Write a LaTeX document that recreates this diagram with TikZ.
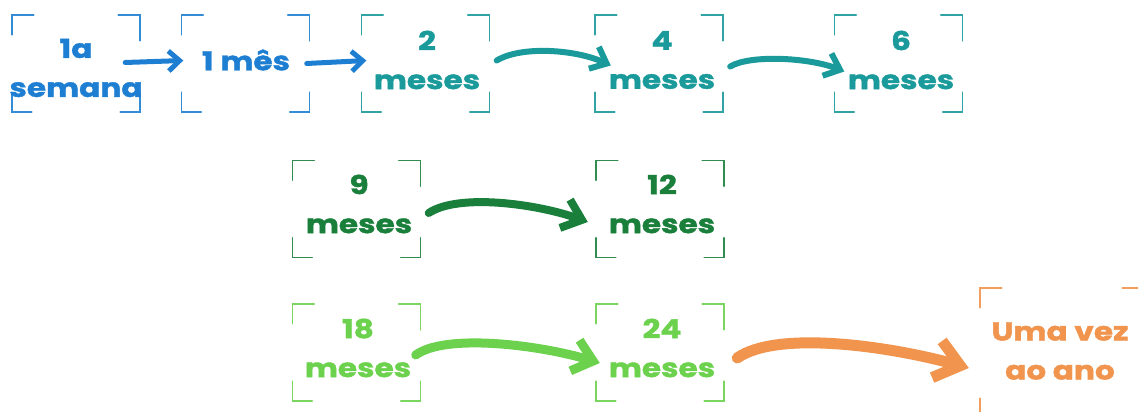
\documentclass[tikz,border=0pt]{standalone}
\usepackage{fontspec}
\setmainfont{Poppins}[FakeStretch=1.2,BoldFeatures={FakeBold=1.5}]
\usetikzlibrary{arrows.meta,calc}
\definecolor{cblue}{HTML}{1E7FD2}
\definecolor{cteal}{HTML}{1A9A9A}
\definecolor{cdgreen}{HTML}{1B7F3C}
\definecolor{clgreen}{HTML}{6CD24E}
\definecolor{corange}{HTML}{F0944E}
\newcommand\brackets[2]{%
  \draw[brk,#2] ($(#1.north west)+(0,20)$) -- (#1.north west) -- ++(22,0);
  \draw[brk,#2] ($(#1.north east)+(-22,0)$) -- (#1.north east) -- ++(0,26);
  \draw[brk,#2] ($(#1.south west)+(0,-20)$) -- (#1.south west) -- ++(20,0);
  \draw[brk,#2] ($(#1.south east)+(-20,0)$) -- (#1.south east) -- ++(0,-20);
}
\begin{document}
\begin{tikzpicture}[x=1pt,y=-1pt,
  box/.style={draw=none,rectangle,inner sep=0pt,minimum width=128pt,minimum height=97pt},
  brk/.style={line width=1.5pt,line cap=round,opacity=0.9},
  lbl/.style={font=\fontsize{26}{39}\selectfont\bfseries,align=center,inner sep=0pt},
  arr/.style={line width=#1,line cap=round},
]
\useasboundingbox (0,0) rectangle (1138,412);
\clip (0,0) rectangle (1138,412);
% boxes
\node[box] (b1) at (76,63.5) {};
\node[box] (b2) at (245.5,63.5) {};
\node[box] (b3) at (425.5,63.5) {};
\node[box] (b4) at (659,63.5) {};
\node[box] (b5) at (898.5,63.5) {};
\node[box] (b6) at (356.5,209) {};
\node[box] (b7) at (660,209) {};
\node[box] (b8) at (356.5,352.5) {};
\node[box] (b9) at (660,352.5) {};
\node[box,minimum width=164pt,minimum height=130pt] (b10) at (1062,353) {};
\brackets{b1}{cblue}
\brackets{b2}{cblue}
\brackets{b3}{cteal}
\brackets{b4}{cteal}
\brackets{b5}{cteal}
\brackets{b6}{cdgreen}
\brackets{b7}{cdgreen}
\brackets{b8}{clgreen}
\brackets{b9}{clgreen}
\brackets{b10}{corange}
% labels
\node[lbl,text=cblue] (t1) at (76,68) {1a\\semana};
\node[lbl,text=cblue] (t2) at (246,60) {1 mês};
\node[lbl,text=cteal] (t3) at (427,60) {2\\meses};
\node[lbl,text=cteal] (t4) at (662,60) {4\\meses};
\node[lbl,text=cteal] (t5) at (901,60) {6\\meses};
\node[lbl,text=cdgreen] (t6) at (359,204) {9\\meses};
\node[lbl,text=cdgreen] (t7) at (662,204) {12\\meses};
\node[lbl,text=clgreen] (t8) at (358,348) {18\\meses};
\node[lbl,text=clgreen] (t9) at (662,348) {24\\meses};
\node[lbl,text=corange] (t10) at (1060,351) {Uma vez\\ao ano};
% arrows
\draw[arr=5pt,cblue,-{Straight Barb[length=11pt,width=20pt]}]
  ($(b1.east)+(-15,-1)$) -- ($(b2.west)+(2,-3)$);
\draw[arr=5pt,cblue,-{Straight Barb[length=11pt,width=20pt]}]
  ($(b2.east)+(-3,0)$) -- ($(b3.west)+(5,-3)$);
\draw[arr=6pt,cteal,-{Straight Barb[length=14pt,width=24pt]}]
  ($(b3.east)+(7,-3)$) .. controls +(25,-15) and +(-35,-16) .. ($(b4.west)+(16,2)$);
\draw[arr=6pt,cteal,-{Straight Barb[length=14pt,width=24pt]}]
  ($(b4.east)+(7,3)$) .. controls +(20,-12) and +(-35,-14) .. ($(b5.west)+(10,8)$);
\draw[arr=8pt,cdgreen,-{Straight Barb[length=18pt,width=30pt]}]
  ($(b6.east)+(8,4)$) .. controls +(30,-20) and +(-50,-18) .. ($(b7.west)+(-8,13)$);
\draw[arr=9pt,clgreen,-{Straight Barb[length=19pt,width=32pt]}]
  ($(b8.east)+(-5,2.5)$) .. controls +(30,-22) and +(-60,-18) .. ($(b9.west)+(4,10.5)$);
\draw[arr=11pt,corange,-{Straight Barb[length=24pt,width=38pt]}]
  ($(b9.east)+(13,5.5)$) .. controls +(40,-28) and +(-80,-22) .. ($(b10.west)+(-11,15)$);
\end{tikzpicture}
\end{document}
